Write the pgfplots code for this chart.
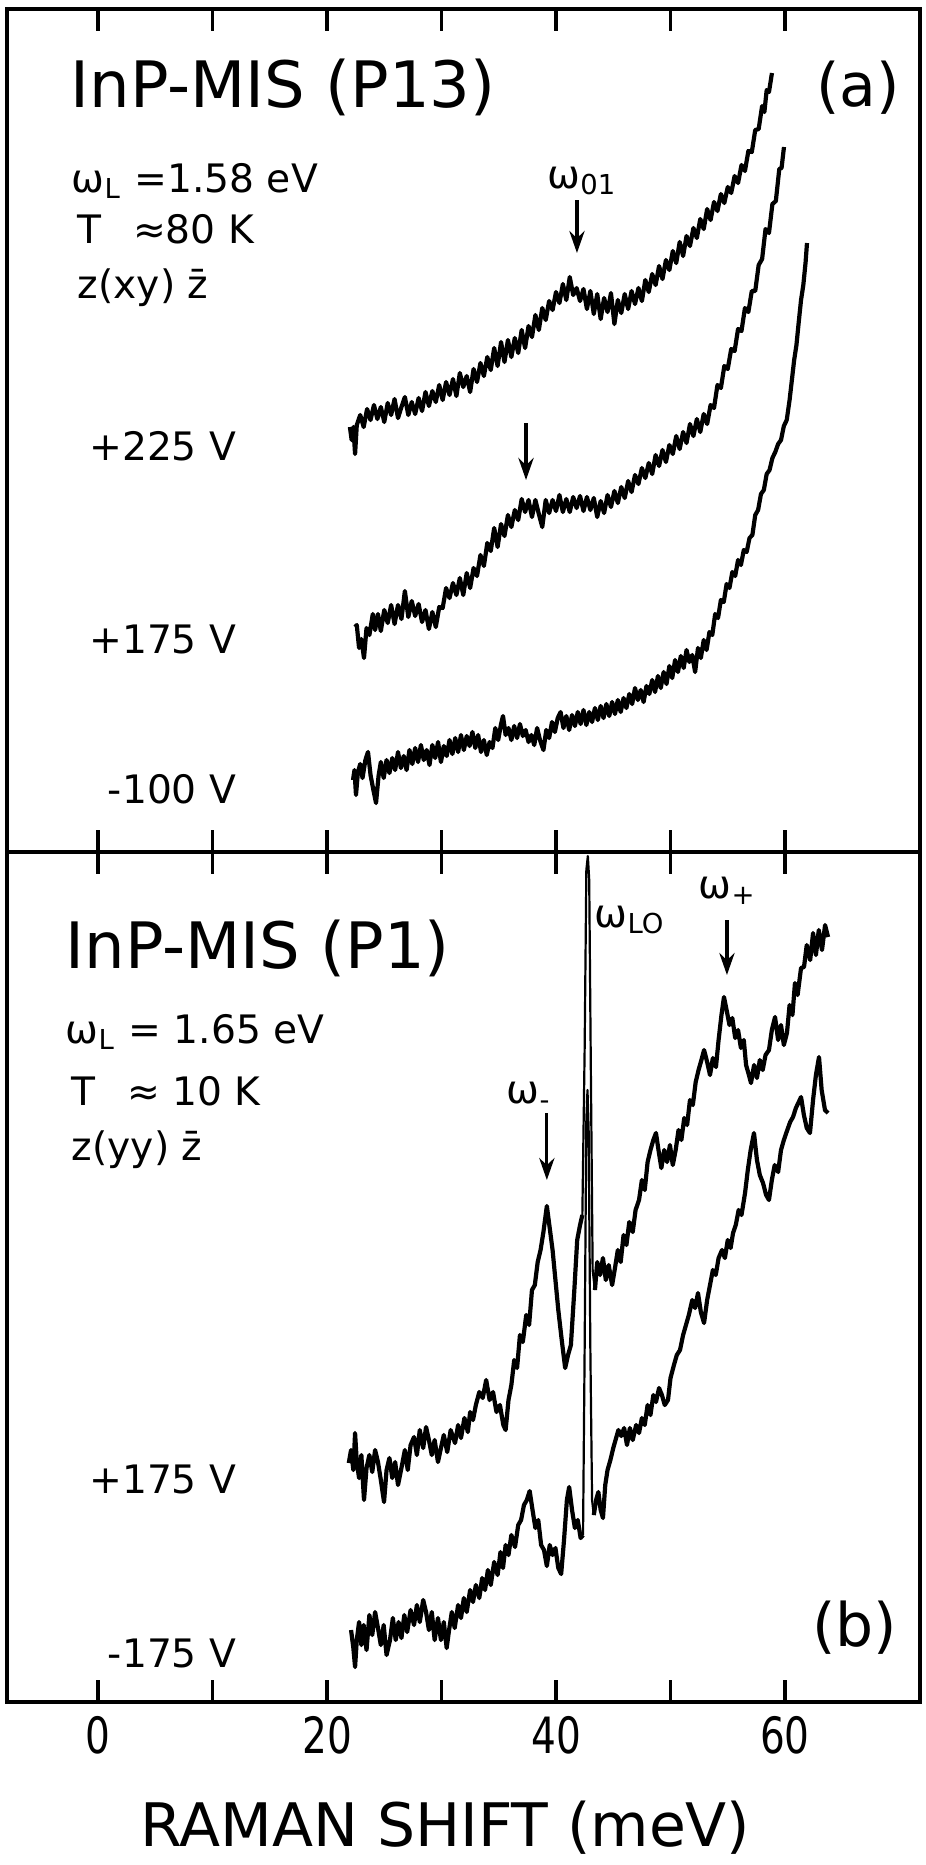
\documentclass[border=0pt]{standalone}
\usepackage{fontspec}
\setmainfont{DejaVu Sans}
\newfontfamily\narrowfont{DejaVu Sans}[FakeStretch=0.78]
\usepackage{pgfplots}
\pgfplotsset{compat=1.18}
\usetikzlibrary{arrows.meta}

\pgfplotsset{
  panel/.style={
    scale only axis, width=228.25pt,
    xmin=-7.95, xmax=71.79, y dir=reverse,
    xtick={0,10,...,60}, ytick=\empty,
    tick align=inside, xtick pos=both, major tick length=5.4pt,
    axis line style={line width=1.1pt},
    every tick/.style={black, line width=0.9pt},
    /pgf/number format/assume math mode=true,
  },
  curve/.style={black, line width=1.05pt, line join=round},
  spike/.style={black, line width=0.55pt, line join=round},
}
\tikzset{
  big/.style={font=\fontsize{16}{16}\selectfont, inner sep=0pt},
  lab/.style={font=\fontsize{9.8}{10}\selectfont, inner sep=0pt},
  arr/.style={line width=0.8pt, -{Stealth[length=5.5pt, width=3.8pt]}},
}

\begin{document}
\begin{tikzpicture}
\useasboundingbox (0pt,0pt) rectangle (231.25pt,-466.25pt);

% ---------------- panel (a) ----------------
\begin{axis}[panel, at={(1.75pt,-2.25pt)}, anchor=north west,
  height=210.75pt, ymin=9, ymax=852, xticklabels={}]

% +225 V
\addplot[curve] coordinates {
(22.0,427)(22.15,440)(22.3,427)(22.45,454)(22.6,425)(22.9,415)(23.2,427)(23.5,409)
(23.8,420)(24.1,405)(24.4,419)(24.7,407)(25.0,422)(25.3,403)(25.6,415)(25.9,399)
(26.2,418)(26.5,407)(26.8,397)(27.1,415)(27.4,402)(27.7,414)(28.0,398)(28.3,411)
(28.6,392)(28.9,406)(29.2,391)(29.5,402)(29.8,385)(30.1,400)(30.4,382)(30.7,395)
(31.0,379)(31.3,396)(31.6,373)(31.9,387)(32.2,376)(32.5,392)(32.8,369)(33.1,382)
(33.4,363)(33.7,376)(34.0,357)(34.3,370)(34.6,348)(34.9,366)(35.2,342)(35.5,362)
(35.8,340)(36.1,357)(36.4,338)(36.7,353)(37.0,330)(37.3,348)(37.6,326)(37.9,337)
(38.2,315)(38.5,330)(38.8,308)(39.1,320)(39.4,301)(39.7,310)(40.0,292)(40.3,303)
(40.6,284)(40.9,300)(41.2,277)(41.5,295)(41.8,288)(42.1,301)(42.4,289)(42.7,309)
(43.0,291)(43.3,314)(43.6,294)(43.9,319)(44.2,298)(44.5,312)(44.8,293)(45.1,324)
(45.4,300)(45.7,313)(46.0,294)(46.3,309)(46.6,291)(46.9,304)(47.2,288)(47.5,301)
(47.8,280)(48.1,292)(48.4,274)(48.7,285)(49.0,266)(49.3,279)(49.6,260)(49.9,270)
(50.2,251)(50.5,263)(50.8,242)(51.1,256)(51.4,236)(51.7,246)(52.0,228)(52.3,238)
(52.6,219)(52.9,229)(53.2,209)(53.5,220)(53.8,202)(54.1,211)(54.4,194)(54.7,203)
(55.0,187)(55.3,193)(55.6,176)(55.9,183)(56.2,165)(56.5,171)(56.8,151)(57.1,152)
(57.4,130)(57.7,129)(58.0,106)(58.2,112)(58.4,90)(58.6,92)(58.86,73)
};

% +175 V
\addplot[curve] coordinates {
(22.45,627)(22.6,625)(22.8,648)(23.0,639)(23.23,658)(23.45,628)(23.7,635)(24.0,614)
(24.2,630)(24.45,614)(24.7,631)(25.0,610)(25.3,623)(25.6,605)(25.9,624)(26.2,605)
(26.5,619)(26.8,591)(27.1,617)(27.4,601)(27.7,616)(28.0,604)(28.3,622)(28.6,610)
(28.9,629)(29.2,612)(29.5,627)(29.8,607)(30.1,608)(30.4,588)(30.7,598)(31.0,583)
(31.3,595)(31.6,578)(31.9,595)(32.2,573)(32.5,588)(32.8,568)(33.1,576)(33.4,555)
(33.7,566)(34.0,543)(34.3,551)(34.6,528)(34.9,547)(35.2,524)(35.5,536)(35.8,515)
(36.1,527)(36.4,510)(36.7,520)(37.0,499)(37.3,512)(37.6,500)(37.9,517)(38.2,500)
(38.5,514)(38.8,527)(39.1,500)(39.4,513)(39.7,500)(40.0,511)(40.3,495)(40.6,512)
(40.9,499)(41.2,512)(41.5,497)(41.8,508)(42.1,496)(42.4,511)(42.7,497)(43.0,510)
(43.3,498)(43.6,517)(43.9,501)(44.2,513)(44.5,495)(44.8,507)(45.1,491)(45.4,503)
(45.7,487)(46.0,498)(46.3,481)(46.6,492)(46.9,475)(47.2,484)(47.5,468)(47.8,478)
(48.1,463)(48.4,474)(48.7,455)(49.0,466)(49.3,450)(49.6,462)(49.9,445)(50.2,454)
(50.5,436)(50.8,449)(51.1,432)(51.4,443)(51.7,424)(52.0,436)(52.3,419)(52.6,432)
(52.9,414)(53.2,424)(53.5,405)(53.8,408)(54.1,385)(54.4,388)(54.7,366)(55.0,369)
(55.3,349)(55.6,351)(55.9,329)(56.2,331)(56.5,308)(56.8,312)(57.1,291)(57.4,291)
(57.7,265)(58.0,259)(58.3,229)(58.6,233)(58.9,204)(59.2,201)(59.5,169)(59.7,168)
(59.91,147)
};

% -100 V
\addplot[curve] coordinates {
(22.27,780)(22.4,770)(22.53,795)(22.7,772)(22.9,764)(23.1,778)(23.35,760)(23.58,752)
(23.8,775)(24.05,790)(24.28,803)(24.5,776)(24.7,762)(24.95,778)(25.2,760)(25.45,773)
(25.7,758)(25.95,770)(26.2,752)(26.45,768)(26.7,756)(26.95,770)(27.2,750)(27.45,764)
(27.7,748)(27.95,762)(28.2,745)(28.45,760)(28.7,750)(28.95,765)(29.2,745)(29.45,758)
(29.7,742)(29.95,762)(30.2,746)(30.45,756)(30.7,740)(30.95,754)(31.2,738)(31.45,752)
(31.7,735)(31.95,750)(32.2,736)(32.45,746)(32.7,732)(32.95,748)(33.2,735)(33.45,752)
(33.7,740)(33.95,755)(34.2,742)(34.45,748)(34.7,728)(34.95,740)(35.2,724)(35.37,716)
(35.6,735)(35.85,728)(36.1,740)(36.35,726)(36.6,738)(36.85,724)(37.1,736)(37.35,730)
(37.6,742)(37.85,735)(38.1,745)(38.35,728)(38.6,740)(38.9,750)(39.15,730)(39.4,738)
(39.65,722)(39.9,732)(40.15,718)(40.4,712)(40.65,728)(40.9,716)(41.15,730)(41.4,715)
(41.65,726)(41.9,712)(42.15,724)(42.4,710)(42.65,725)(42.9,712)(43.15,722)(43.4,708)
(43.65,720)(43.9,706)(44.15,718)(44.4,704)(44.65,716)(44.9,702)(45.15,714)(45.4,700)
(45.65,712)(45.9,698)(46.15,708)(46.4,694)(46.65,704)(46.9,688)(47.15,700)(47.4,690)
(47.65,702)(47.9,686)(48.15,694)(48.4,680)(48.65,692)(48.9,676)(49.15,688)(49.4,672)
(49.65,684)(49.9,666)(50.15,678)(50.4,660)(50.65,672)(50.9,656)(51.15,668)(51.4,650)
(51.65,662)(51.9,655)(52.15,672)(52.4,648)(52.65,658)(52.9,640)(53.15,650)(53.4,632)
(53.65,635)(53.9,614)(54.15,618)(54.4,600)(54.65,602)(54.9,584)(55.15,588)(55.4,572)
(55.65,576)(55.9,560)(56.15,565)(56.4,550)(56.65,552)(56.9,538)(57.15,535)(57.4,515)
(57.65,510)(57.9,494)(58.15,490)(58.4,474)(58.65,470)(58.9,458)(59.15,452)(59.4,444)
(59.65,440)(59.9,426)(60.15,420)(60.4,400)(60.6,380)(60.8,360)(61.0,345)(61.2,322)
(61.4,300)(61.6,285)(61.8,262)(61.92,243)
};

\node[big, anchor=base west] at (axis cs:-2.45,107) {InP-MIS (P13)};
\node[big, anchor=center, font=\fontsize{15}{15}\selectfont] at (axis cs:66.4,88) {(a)};
\node[lab, anchor=base west] at (axis cs:-2.36,192) {ω\textsubscript{L} =1.58 eV};
\node[lab, anchor=base west] at (axis cs:-1.83,243) {T\hspace{0.8em}≈80 K};
\node[lab, anchor=base west] at (axis cs:-1.83,298) {z(xy) z̄};
\node[lab, anchor=base west] at (axis cs:39.2,188) {ω\textsubscript{01}};
\draw[arr] (axis cs:41.83,200) -- (axis cs:41.83,253);
\draw[arr] (axis cs:37.38,423) -- (axis cs:37.38,480);
\node[lab, anchor=base east] at (axis cs:12.14,460) {+225 V};
\node[lab, anchor=base east] at (axis cs:12.14,653) {+175 V};
\node[lab, anchor=base east] at (axis cs:12.14,803) {-100 V};
\end{axis}

% ---------------- panel (b) ----------------
\begin{axis}[panel, at={(1.75pt,-213pt)}, anchor=north west,
  height=212.5pt, ymin=852, ymax=1702,
  xticklabels={0,,20,,40,,60},
  xticklabel style={font=\narrowfont\fontsize{12.5}{12.5}\selectfont},
  xlabel={RAMAN SHIFT (meV)},
  xlabel style={at={(axis description cs:0.48,-0.148)}, anchor=center,
    font=\fontsize{15}{15}\selectfont},
  clip=false]

% +175 V
\addplot[curve] coordinates {
(21.9,1463)(22.1,1450)(22.3,1470)(22.45,1433)(22.6,1462)(22.8,1478)(23.0,1455)(23.23,1500)
(23.45,1468)(23.7,1455)(23.95,1472)(24.2,1450)(24.45,1462)(24.7,1480)(24.98,1502)(25.2,1470)
(25.45,1458)(25.7,1478)(25.95,1462)(26.2,1485)(26.55,1465)(26.8,1450)(27.05,1470)(27.3,1445)
(27.6,1437)(27.85,1455)(28.1,1430)(28.4,1448)(28.65,1427)(28.9,1440)(29.15,1455)(29.4,1440)
(29.69,1462)(29.95,1448)(30.2,1435)(30.5,1452)(30.8,1430)(31.18,1443)(31.45,1425)(31.7,1438)
(32.0,1418)(32.3,1432)(32.5,1412)(32.75,1420)(33.0,1405)(33.3,1392)(33.6,1398)(33.9,1380)
(34.2,1400)(34.5,1392)(34.8,1412)(35.1,1405)(35.4,1425)(35.6,1430)(35.85,1400)(36.1,1385)
(36.35,1360)(36.6,1368)(36.85,1335)(37.1,1342)(37.4,1315)(37.65,1325)(37.9,1290)(38.15,1285)
(38.4,1262)(38.65,1250)(38.9,1232)(39.2,1206)(39.45,1228)(39.7,1250)(39.95,1280)(40.2,1310)
(40.5,1340)(40.8,1368)(41.05,1355)(41.3,1345)(41.6,1290)(41.85,1240)(42.1,1225)(42.3,1215)
};
\addplot[spike] coordinates {
(42.3,1215)(42.5,1050)(42.65,870)(42.78,856)(42.9,880)(43.05,1080)(43.2,1270)(43.4,1290)
};
\addplot[curve] coordinates {
(43.4,1290)(43.6,1262)(43.85,1275)(44.1,1258)(44.35,1280)(44.6,1265)(44.9,1285)(45.15,1268)
(45.4,1250)(45.65,1262)(45.9,1235)(46.15,1245)(46.4,1222)(46.7,1232)(46.95,1210)(47.25,1200)
(47.5,1180)(47.75,1190)(48.0,1162)(48.25,1150)(48.5,1140)(48.73,1133)(48.95,1150)(49.2,1168)
(49.45,1150)(49.7,1162)(49.95,1145)(50.2,1165)(50.45,1150)(50.7,1130)(50.95,1140)(51.2,1118)
(51.45,1125)(51.7,1100)(51.95,1105)(52.2,1082)(52.45,1070)(52.7,1060)(52.93,1050)(53.2,1062)
(53.45,1075)(53.7,1058)(53.97,1067)(54.2,1040)(54.45,1015)(54.67,997)(54.9,1010)(55.15,1025)
(55.4,1018)(55.65,1038)(55.9,1030)(56.15,1048)(56.4,1040)(56.6,1065)(56.85,1075)(57.03,1083)
(57.3,1065)(57.55,1078)(57.8,1060)(58.05,1070)(58.3,1055)(58.6,1050)(58.85,1030)(59.13,1017)
(59.4,1040)(59.65,1025)(59.9,1045)(60.17,1033)(60.4,1005)(60.65,1015)(60.87,983)(61.1,995)
(61.4,968)(61.66,967)(61.9,945)(62.2,960)(62.45,933)(62.7,955)(62.95,930)(63.23,950)
(63.5,925)(63.76,937)
};

% -175 V
\addplot[curve] coordinates {
(22.1,1630)(22.3,1648)(22.45,1667)(22.6,1640)(22.8,1622)(23.0,1645)(23.2,1625)(23.45,1650)
(23.7,1615)(23.95,1635)(24.2,1612)(24.45,1628)(24.7,1645)(24.95,1625)(25.2,1655)(25.5,1640)
(25.75,1618)(26.0,1640)(26.25,1622)(26.5,1638)(26.75,1615)(27.0,1632)(27.3,1610)(27.6,1625)
(27.85,1605)(28.1,1622)(28.4,1600)(28.65,1612)(28.9,1630)(29.15,1612)(29.4,1640)(29.69,1618)
(29.95,1640)(30.2,1622)(30.45,1648)(30.66,1630)(30.9,1612)(31.15,1628)(31.45,1605)(31.7,1618)
(31.95,1598)(32.2,1612)(32.5,1590)(32.75,1602)(33.0,1585)(33.3,1598)(33.55,1578)(33.8,1590)
(34.05,1570)(34.3,1585)(34.6,1562)(34.9,1575)(35.15,1552)(35.37,1568)(35.6,1545)(35.85,1555)
(36.1,1535)(36.42,1547)(36.7,1525)(36.95,1520)(37.2,1505)(37.45,1500)(37.7,1491)(37.95,1510)
(38.2,1528)(38.45,1520)(38.7,1545)(38.95,1550)(39.2,1566)(39.45,1545)(39.7,1555)(39.95,1548)
(40.2,1568)(40.45,1574)(40.7,1540)(40.95,1500)(41.15,1487)(41.4,1510)(41.65,1528)(41.9,1520)
(42.15,1538)(42.36,1535)
};
\addplot[spike] coordinates {
(42.36,1535)(42.5,1350)(42.65,1120)(42.75,1090)(42.85,1130)(43.0,1350)(43.15,1500)(43.3,1515)
};
\addplot[curve] coordinates {
(43.3,1515)(43.5,1500)(43.7,1492)(43.9,1510)(44.1,1518)(44.3,1485)(44.5,1470)(44.75,1460)
(45.0,1448)(45.2,1440)(45.45,1430)(45.7,1436)(45.95,1428)(46.2,1445)(46.45,1428)(46.7,1440)
(47.0,1425)(47.25,1433)(47.5,1418)(47.75,1425)(48.0,1405)(48.25,1415)(48.5,1395)(48.73,1402)
(49.0,1388)(49.25,1395)(49.5,1405)(49.78,1400)(50.0,1378)(50.3,1365)(50.55,1355)(50.83,1350)
(51.1,1335)(51.35,1325)(51.6,1315)(51.9,1300)(52.15,1308)(52.4,1293)(52.65,1312)(52.93,1323)
(53.2,1300)(53.45,1285)(53.7,1270)(53.95,1275)(54.2,1258)(54.5,1250)(54.75,1258)(55.0,1240)
(55.25,1248)(55.46,1233)(55.7,1225)(55.95,1210)(56.2,1215)(56.51,1193)(56.75,1170)(57.0,1150)
(57.29,1133)(57.55,1160)(57.8,1175)(58.08,1183)(58.35,1195)(58.6,1200)(58.85,1180)(59.1,1165)
(59.4,1172)(59.65,1150)(59.9,1140)(60.2,1130)(60.45,1122)(60.7,1117)(60.95,1108)(61.2,1102)
(61.4,1097)(61.65,1115)(61.9,1128)(62.18,1133)(62.45,1100)(62.7,1075)(62.97,1057)(63.2,1090)
(63.49,1110)(63.76,1113)
};

\node[big, anchor=base west] at (axis cs:-2.88,968) {InP-MIS (P1)};
\node[big, anchor=center, font=\fontsize{15}{15}\selectfont] at (axis cs:66.1,1628) {(b)};
\node[lab, anchor=base west] at (axis cs:-2.88,1043) {ω\textsubscript{L} = 1.65 eV};
\node[lab, anchor=base west] at (axis cs:-2.36,1105) {T\hspace{0.8em}≈ 10 K};
\node[lab, anchor=base west] at (axis cs:-2.36,1160) {z(yy) z̄};
\node[lab, anchor=base west] at (axis cs:43.32,927) {ω\textsubscript{LO}};
\node[lab, anchor=base west] at (axis cs:52.4,898) {ω\textsubscript{+}};
\draw[arr] (axis cs:54.93,920) -- (axis cs:54.93,975);
\node[lab, anchor=base west] at (axis cs:35.63,1103) {ω\textsubscript{-}};
\draw[arr] (axis cs:39.2,1113) -- (axis cs:39.2,1180);
\node[lab, anchor=base east] at (axis cs:12.14,1493) {+175 V};
\node[lab, anchor=base east] at (axis cs:12.14,1667) {-175 V};
\end{axis}
\end{tikzpicture}
\end{document}
